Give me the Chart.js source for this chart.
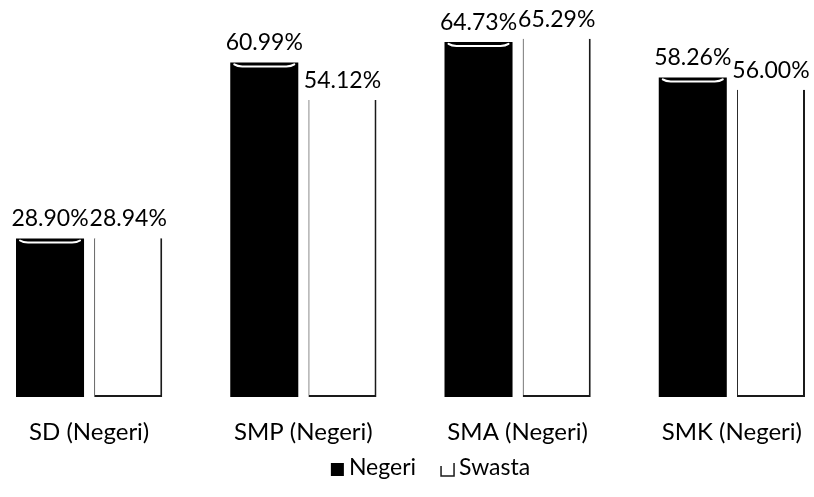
<!DOCTYPE html>
<html lang="id">
<head>
    <meta charset="UTF-8">
    <title>Negeri vs Swasta</title>
    <script src="https://cdn.jsdelivr.net/npm/chart.js"></script>
    <style>
        html, body { margin: 0; padding: 0; background: #fff; overflow: hidden; }
        /* the scan is cropped tight on the left, so the plot runs a little past the window */
        .chart-container { width: 857px; height: 497px; margin-left: -18px; }
    </style>
</head>
<body>
    <div class="chart-container">
        <canvas id="chart"></canvas>
    </div>
    <script>
        const categories = ['SD (Negeri)', 'SMP (Negeri)', 'SMA (Negeri)', 'SMK (Negeri)'];
        const negeri = [28.90, 60.99, 64.73, 58.26];
        const swasta = [28.94, 54.12, 65.29, 56.00];

        const fontFamily = "Lato, 'Open Sans', sans-serif";

        // percentage labels above each bar, plus the little highlight on the black bars
        const valueLabels = {
            id: 'valueLabels',
            afterDatasetsDraw(chart) {
                const ctx = chart.ctx;
                ctx.save();
                chart.getDatasetMeta(0).data.forEach(bar => {
                    const half = bar.width / 2 - 4;
                    ctx.strokeStyle = '#fff';
                    ctx.lineWidth = 2;
                    ctx.lineCap = 'round';
                    ctx.beginPath();
                    ctx.moveTo(bar.x - half, bar.y + 2);
                    ctx.quadraticCurveTo(bar.x - half + 3, bar.y + 4, bar.x - half + 8, bar.y + 4);
                    ctx.lineTo(bar.x + half - 8, bar.y + 4);
                    ctx.quadraticCurveTo(bar.x + half - 3, bar.y + 4, bar.x + half, bar.y + 2);
                    ctx.stroke();
                });
                ctx.font = '23px ' + fontFamily;
                ctx.fillStyle = '#000';
                ctx.textAlign = 'center';
                ctx.textBaseline = 'bottom';
                chart.data.datasets.forEach((ds, i) => {
                    chart.getDatasetMeta(i).data.forEach((bar, j) => {
                        ctx.fillText(ds.data[j].toFixed(2) + '%', bar.x, bar.y - 8);
                    });
                });
                ctx.restore();
            }
        };

        // legend below the axis, drawn by hand so the spacing follows the original
        const bottomLegend = {
            id: 'bottomLegend',
            afterDraw(chart) {
                const ctx = chart.ctx;
                const y = chart.chartArea.bottom + 71;
                const box = 13, gap = 5, spacing = 25;
                ctx.save();
                ctx.font = '23px ' + fontFamily;
                ctx.textBaseline = 'middle';
                ctx.textAlign = 'left';
                const items = chart.data.datasets.map(ds => ({ ds, w: ctx.measureText(ds.label).width }));
                const total = items.reduce((s, it) => s + box + gap + it.w, 0) + spacing * (items.length - 1);
                let x = chart.width / 2 + 20 - total / 2;
                items.forEach((it, i) => {
                    if (i === 0) {
                        ctx.fillStyle = it.ds.backgroundColor;
                        ctx.fillRect(x, y - 5, box, box);
                    } else {
                        ctx.strokeStyle = it.ds.borderColor;
                        ctx.lineWidth = 1.5;
                        ctx.beginPath();
                        ctx.moveTo(x, y - 2);
                        ctx.lineTo(x, y + 8);
                        ctx.lineTo(x + box, y + 8);
                        ctx.lineTo(x + box, y - 5);
                        ctx.stroke();
                    }
                    x += box + gap;
                    ctx.fillStyle = '#000';
                    ctx.fillText(it.ds.label, x, y);
                    x += it.w + spacing;
                });
                ctx.restore();
            }
        };

        new Chart(document.getElementById('chart'), {
            type: 'bar',
            data: {
                labels: categories,
                datasets: [
                    {
                        label: 'Negeri',
                        data: negeri,
                        backgroundColor: '#000',
                        borderWidth: 0
                    },
                    {
                        label: 'Swasta',
                        data: swasta,
                        backgroundColor: '#fff',
                        borderColor: '#1a1a1a',
                        borderWidth: { left: 1, right: 2, bottom: 2, top: 0 },
                        borderSkipped: 'top'
                    }
                ]
            },
            options: {
                responsive: true,
                maintainAspectRatio: false,
                animation: false,
                categoryPercentage: 0.73,
                barPercentage: 0.87,
                layout: { padding: { left: 0, right: 0, top: 13, bottom: 48 } },
                scales: {
                    x: {
                        grid: { display: false, drawTicks: false },
                        border: { display: false },
                        ticks: { color: '#000', padding: 21, font: { family: fontFamily, size: 24 } },
                        afterFit(scale) { scale.height = 52; }
                    },
                    y: {
                        display: false,
                        min: 0,
                        max: 70,
                        grid: { display: false }
                    }
                },
                plugins: {
                    tooltip: { enabled: false },
                    legend: { display: false }
                }
            },
            plugins: [valueLabels, bottomLegend]
        });
    </script>
</body>
</html>
